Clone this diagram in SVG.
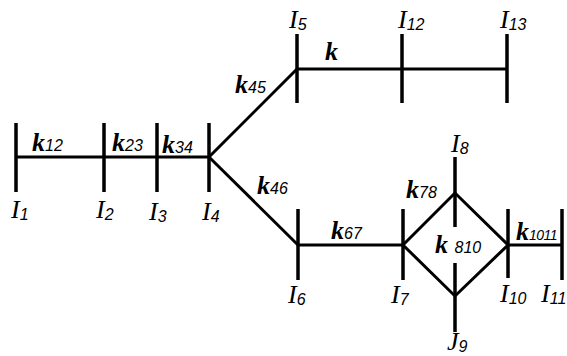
<svg xmlns="http://www.w3.org/2000/svg" width="567" height="356" viewBox="0 0 567 356">
<style>
.ln{stroke:#000;stroke-width:3;fill:none;stroke-linecap:butt}
.b{stroke:#000;stroke-width:3.5;fill:none}
text{font-family:"Liberation Serif","DejaVu Serif",serif;font-style:italic;font-size:26px;fill:#000}
.k{font-weight:bold}
.s{font-size:16px;font-weight:normal;font-family:"Liberation Sans",sans-serif;font-style:italic}
</style>
<rect width="567" height="356" fill="#fff"/>
<g id="connectors">
<line class="ln" x1="16" y1="157" x2="209" y2="157"/>
<line class="ln" x1="209" y1="157" x2="297" y2="69"/>
<line class="ln" x1="297" y1="69" x2="507" y2="69"/>
<line class="ln" x1="209" y1="157" x2="298" y2="245"/>
<line class="ln" x1="298" y1="245" x2="403" y2="245"/>
<polygon class="ln" points="403,245 455,193 508,245 455,296"/>
<line class="ln" x1="508" y1="245" x2="562" y2="245"/>
</g>
<g id="I1"><line class="b" x1="16" y1="123" x2="16" y2="192"/><text x="11" y="218">I<tspan class="s" dy="2">1</tspan></text></g>
<g id="I2"><line class="b" x1="104" y1="123" x2="104" y2="192"/><text x="96" y="218">I<tspan class="s" dy="2">2</tspan></text></g>
<g id="I3"><line class="b" x1="157" y1="123" x2="157" y2="192"/><text x="149" y="220">I<tspan class="s" dy="2">3</tspan></text></g>
<g id="I4"><line class="b" x1="209" y1="123" x2="209" y2="192"/><text x="202" y="220">I<tspan class="s" dy="2">4</tspan></text></g>
<g id="I5"><line class="b" x1="297" y1="34" x2="297" y2="103"/><text x="289" y="28">I<tspan class="s" dy="2">5</tspan></text></g>
<g id="I12"><line class="b" x1="402" y1="34" x2="402" y2="103"/><text x="398" y="28">I<tspan class="s" dy="2">12</tspan></text></g>
<g id="I13"><line class="b" x1="507" y1="34" x2="507" y2="103"/><text x="500" y="28">I<tspan class="s" dy="2">13</tspan></text></g>
<g id="I6"><line class="b" x1="298" y1="209" x2="298" y2="280"/><text x="288" y="303">I<tspan class="s" dy="2">6</tspan></text></g>
<g id="I7"><line class="b" x1="403" y1="209" x2="403" y2="280"/><text x="391" y="303">I<tspan class="s" dy="2">7</tspan></text></g>
<g id="I8"><line class="b" x1="455" y1="157" x2="455" y2="227"/><text x="451" y="152">I<tspan class="s" dy="2">8</tspan></text></g>
<g id="J9"><line class="b" x1="455" y1="263" x2="455" y2="332"/><text x="447" y="350">J<tspan class="s" dy="2">9</tspan></text></g>
<g id="I10"><line class="b" x1="508" y1="209" x2="508" y2="278"/><text x="500" y="302">I<tspan class="s" dy="2">10</tspan></text></g>
<g id="I11"><line class="b" x1="562" y1="209" x2="562" y2="280"/><text x="541" y="302">I<tspan class="s" dy="2">11</tspan></text></g>
<g id="labels">
<text class="k" x="32" y="151">k<tspan class="s">12</tspan></text>
<text class="k" x="112" y="151">k<tspan class="s">23</tspan></text>
<text class="k" x="162" y="153">k<tspan class="s">34</tspan></text>
<text class="k" x="235" y="93">k<tspan class="s">45</tspan></text>
<text class="k" x="325" y="60">k</text>
<text class="k" x="257" y="194">k<tspan class="s">46</tspan></text>
<text class="k" x="331" y="239">k<tspan class="s">67</tspan></text>
<text class="k" x="406" y="198">k<tspan class="s">78</tspan></text>
<text class="k" x="435" y="253">k <tspan class="s">810</tspan></text>
<text class="k" x="516" y="240">k<tspan class="s" style="font-size:14px;letter-spacing:-0.5px">1011</tspan></text>
</g>
</svg>
